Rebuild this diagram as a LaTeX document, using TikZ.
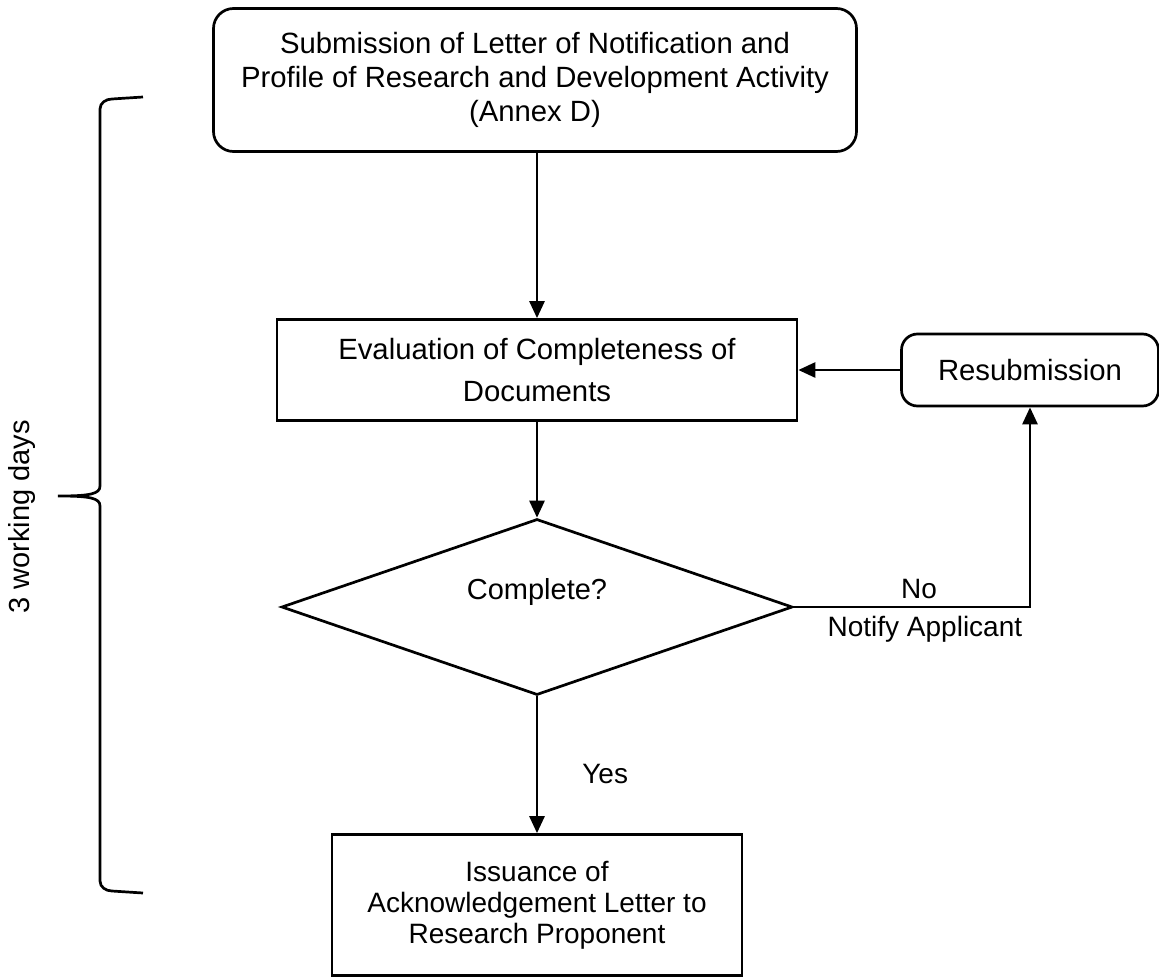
\documentclass[tikz,border=0pt]{standalone}
\usepackage{fontspec}
\setmainfont{Liberation Sans}
\usetikzlibrary{arrows.meta,shapes.geometric,positioning}

\begin{document}
\begin{tikzpicture}[
  x=1pt, y=-1pt,
  line width=2.7pt,
  box/.style={draw, align=center, inner sep=0pt, font=\fontsize{29.3}{34}\selectfont},
  rbox/.style={box, rounded corners=20pt},
  decision/.style={draw, diamond, inner sep=0pt, minimum width=511pt, minimum height=176pt},
  arrow/.style={-{Triangle[length=17pt,width=15pt]}},
  label/.style={inner sep=0pt, font=\fontsize{28}{32}\selectfont}
]
\useasboundingbox (0,0) rectangle (1159,977);

% Flow boxes
\node[rbox, minimum width=643pt, minimum height=143pt] (submit) at (535,80)
  {Submission of Letter of Notification and\\Profile of Research and Development Activity\\(Annex D)};
\node[box, minimum width=520pt, minimum height=101pt, font=\fontsize{29.3}{42}\selectfont] (eval) at (537,370)
  {Evaluation of Completeness of\\Documents};
\node[rbox, rounded corners=16pt, minimum width=257pt, minimum height=72pt] (resub) at (1030,370) {Resubmission};
\node[decision] (dec) at (537,607) {};
\node[label, font=\fontsize{29}{32}\selectfont] (dectext) at (537,592) {Complete?};
\node[box, minimum width=410pt, minimum height=141pt, font=\fontsize{28}{31}\selectfont] (issue) at (537,905)
  {Issuance of\\Acknowledgement Letter to\\Research Proponent};

% Connectors
\draw[arrow] (eval.north |- submit.south) -- (eval.north);
\draw[arrow] (eval.south) -- (dec.north);
\draw[arrow] (dec.south) -- node[label, right=44pt, pos=0.57] {Yes} (issue.north);
\draw[arrow] (dec.east) -- node[label, above=7pt, pos=0.53] {No}
  node[label, below=8pt, pos=0.555] {Notify Applicant} (dec.east -| resub.south) -- (resub.south);
\draw[arrow] (resub.west) -- (eval.east);

% Time bracket
\draw (143,97) -- (112,99) to[out=180,in=90] (100,109) -- (100,486)
  .. controls (100,494) and (90,496) .. (58,496)
  .. controls (90,496) and (100,498) .. (100,506) -- (100,881)
  to[out=-90,in=180] (112,891) -- (143,893);
\node[label, rotate=90, font=\fontsize{29}{32}\selectfont] (days) at (22,517) {3 working days};

\end{tikzpicture}
\end{document}
